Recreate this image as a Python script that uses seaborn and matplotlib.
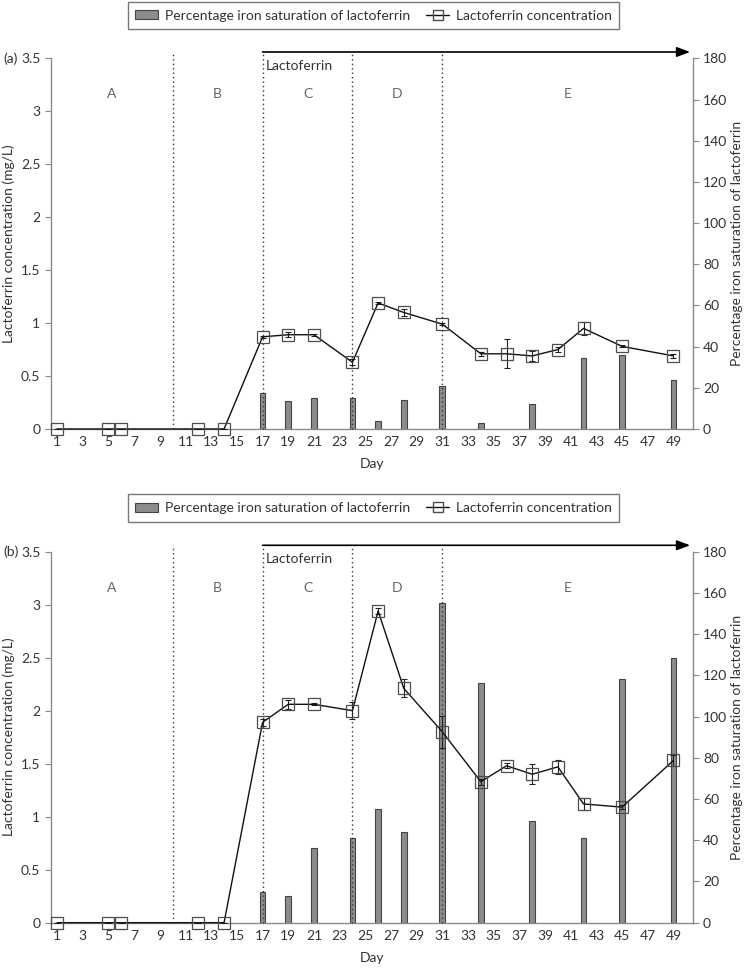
import numpy as np
import pandas as pd
import seaborn as sns
from matplotlib import pyplot as plt
from matplotlib.lines import Line2D
from matplotlib.patches import Patch

# Lactoferrin concentration (mg/L), left axis
line_days = [1, 5, 6, 12, 14, 17, 19, 21, 24, 26, 28, 31, 34, 36, 38, 40, 42, 45, 49]
conc_a = [0, 0, 0, 0, 0, 0.87, 0.89, 0.89, 0.63, 1.19, 1.10, 0.99, 0.71, 0.71, 0.69, 0.75, 0.95, 0.78, 0.69]
err_a = [0, 0, 0, 0, 0, 0.01, 0.025, 0.01, 0.03, 0.01, 0.03, 0.01, 0.02, 0.137, 0.044, 0.02, 0.064, 0.01, 0.02]
conc_b = [0, 0, 0, 0, 0, 1.89, 2.06, 2.06, 2.00, 2.94, 2.21, 1.80, 1.33, 1.48, 1.40, 1.47, 1.12, 1.09, 1.53]
err_b = [0, 0, 0, 0, 0, 0.03, 0.04, 0.01, 0.08, 0.03, 0.085, 0.15, 0.03, 0.025, 0.094, 0.066, 0.057, 0.02, 0.05]

# Percentage iron saturation of lactoferrin, right axis
bar_days = [17, 19, 21, 24, 26, 28, 31, 34, 38, 42, 45, 49]
sat_a = [17.7, 13.8, 14.9, 14.9, 3.8, 13.9, 21, 2.9, 11.9, 34.7, 35.8, 24]
sat_b = [14.9, 12.9, 36.2, 41.1, 55, 43.8, 155.2, 116.3, 49.2, 41.1, 118.4, 128.3]

phase_labels = ['A', 'B', 'C', 'D', 'E']
phase_centres = [5.25, 13.5, 20.5, 27.5, 40.75]
phase_edges = [10, 17, 24, 31]

sns.set_style('white')
plt.rcParams['font.family'] = ['Lato', 'DejaVu Sans']
plt.rcParams['font.size'] = 10

TXT = '#333333'
SPINE = '#8a8a8a'

fig = plt.figure(figsize=(7.47, 9.69), dpi=100)


def panel(rect, conc, err, sat, tag, legend_y):
    ax = fig.add_axes(rect)
    ax2 = ax.twinx()

    bars = pd.DataFrame({'day': bar_days, 'sat': sat})
    sns.barplot(data=bars, x='day', y='sat', native_scale=True, width=0.22,
                color='#8c8c8c', edgecolor='#444444', linewidth=0.8,
                saturation=1, errorbar=None, ax=ax2)

    df = pd.DataFrame({'day': line_days, 'conc': conc})
    ax.errorbar(line_days, conc, yerr=err, fmt='none', ecolor='#222222',
                elinewidth=0.8, capsize=2.5, capthick=0.8, zorder=3)
    sns.lineplot(data=df, x='day', y='conc', color='#111111', linewidth=1.0,
                 marker='s', markersize=9, markerfacecolor='none',
                 markeredgecolor='#4d4d4d', markeredgewidth=0.9,
                 clip_on=False, zorder=4, ax=ax)

    ax.set_zorder(ax2.get_zorder() + 1)
    ax.patch.set_visible(False)

    ax.set_xlim(0.5, 50.5)
    ax.set_ylim(0, 3.5)
    ax2.set_ylim(0, 180)
    ax.set_yticks(np.arange(0, 3.51, 0.5))
    ax.set_yticklabels(['0', '0.5', '1', '1.5', '2', '2.5', '3', '3.5'])
    ax2.set_yticks(range(0, 181, 20))
    ax.set_xticks(range(1, 50, 2))
    ax.set_xticks(np.arange(0.5, 50.6, 1), minor=True)
    ax.tick_params(axis='x', which='major', length=0, pad=5, colors=TXT)
    ax.tick_params(axis='x', which='minor', length=4, color=SPINE, direction='out')
    ax.tick_params(axis='y', length=4, colors=TXT, direction='out')
    ax2.tick_params(axis='y', length=4, colors=TXT, direction='out')
    ax.tick_params(axis='y', color=SPINE)
    ax2.tick_params(axis='y', color=SPINE)

    for a in (ax, ax2):
        a.spines['top'].set_visible(False)
        for s in ('left', 'right', 'bottom'):
            a.spines[s].set_color(SPINE)
            a.spines[s].set_linewidth(1.0)
    ax.spines['right'].set_visible(False)
    ax2.spines['left'].set_visible(False)
    ax2.spines['bottom'].set_visible(False)

    ax.set_xlabel('Day', color=TXT)
    ax.xaxis.set_label_coords(0.5, -0.078)
    ax.set_ylabel('Lactoferrin concentration (mg/L)', color=TXT)
    ax.yaxis.set_label_coords(-0.055, 0.5)
    ax2.set_ylabel('Percentage iron saturation of lactoferrin', color=TXT)
    ax2.yaxis.set_label_coords(1.06, 0.5)

    ax.vlines(phase_edges, 0, 3.56, colors='#333333', linestyles=(0, (1, 2.2)),
              linewidth=1.0, clip_on=False, zorder=5)
    for lab, xc in zip(phase_labels, phase_centres):
        ax.text(xc, 3.16, lab, ha='center', va='center', color='#666666')
    ax.text(17.25, 3.43, 'Lactoferrin', ha='left', va='center', color=TXT)
    ax.annotate('', xy=(50.3, 3.56), xytext=(17, 3.56), annotation_clip=False,
                arrowprops=dict(arrowstyle='-|>,head_length=0.8,head_width=0.3',
                                color='black', lw=1.2, shrinkA=0, shrinkB=0))

    fig.text(0.004, rect[1] + rect[3], tag, ha='left', va='center', color=TXT)

    handles = [Patch(facecolor='#8c8c8c', edgecolor='#444444', linewidth=0.8),
               Line2D([], [], color='#111111', lw=1.0, marker='s', markersize=7,
                      markerfacecolor='none', markeredgecolor='#4d4d4d')]
    leg = fig.legend(handles, ['Percentage iron saturation of lactoferrin',
                               'Lactoferrin concentration'],
                     loc='center', bbox_to_anchor=(0.5, legend_y), ncol=2,
                     frameon=True, fancybox=False, edgecolor='#555555',
                     handlelength=1.6, handleheight=0.6, columnspacing=1.2,
                     borderpad=0.55, handletextpad=0.5)
    leg.get_frame().set_linewidth(1.0)
    for t in leg.get_texts():
        t.set_color(TXT)
    return ax


panel([0.0679, 0.5573, 0.8594, 0.3825], conc_a, err_a, sat_a, '(a)', 0.984)
panel([0.0679, 0.0478, 0.8594, 0.3829], conc_b, err_b, sat_b, '(b)', 0.4757)

fig.savefig('out.png', dpi=100)
